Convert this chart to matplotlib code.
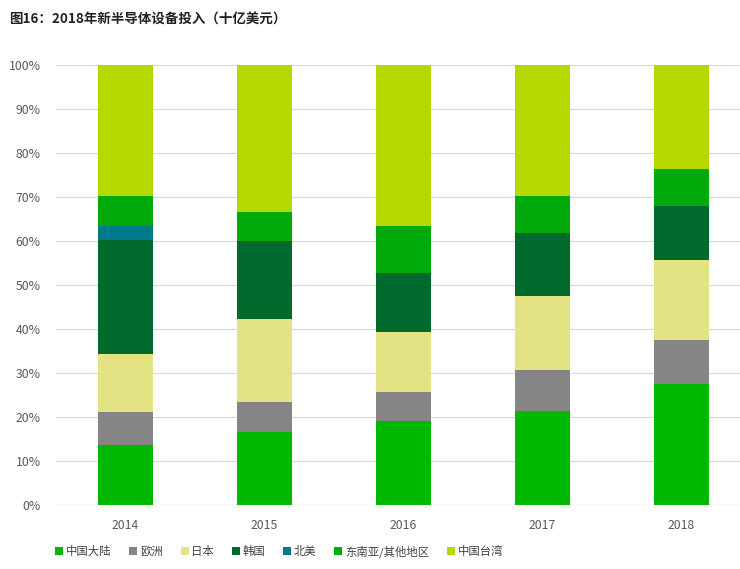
import matplotlib
matplotlib.use("Agg")
import matplotlib.pyplot as plt
import numpy as np

plt.rcParams["font.family"] = ["Noto Sans CJK SC", "DejaVu Sans"]

years = ["2014", "2015", "2016", "2017", "2018"]
regions = ["中国大陆", "欧洲", "日本", "韩国", "北美", "东南亚/其他地区", "中国台湾"]

# share of new equipment spend per year (%)
china = [13.7, 16.7, 19.1, 21.3, 27.6]
europe = [7.4, 6.7, 6.6, 9.3, 9.9]
japan = [13.3, 18.9, 13.7, 16.9, 18.1]
korea = [25.9, 17.6, 13.4, 14.3, 12.3]
north_america = [3.1, 0.0, 0.0, 0.0, 0.0]
sea_other = [6.8, 6.7, 10.6, 8.4, 8.4]
taiwan = [29.8, 33.4, 36.6, 29.8, 23.7]

series = [china, europe, japan, korea, north_america, sea_other, taiwan]
colors = ["#00B800", "#858585", "#E3E383", "#006A2C", "#007A8A", "#00AA0A", "#B6D800"]

fig = plt.figure(figsize=(7.4, 5.69), dpi=100)
ax = fig.add_axes([0.0757, 0.1125, 0.9243, 0.7733])

x = np.arange(len(years))
bottom = np.zeros(len(years))
for name, vals, col in zip(regions, series, colors):
    vals = np.array(vals)
    ax.bar(x, vals, 0.4, bottom=bottom, color=col, label=name, zorder=3)
    bottom += vals

ax.set_ylim(0, 100)
ax.set_xlim(-0.5, 4.42)
ax.set_yticks(np.arange(0, 101, 10))
ax.set_yticklabels([f"{v}%" for v in range(0, 101, 10)])
ax.set_xticks(x)
ax.set_xticklabels(years)
ax.grid(axis="y", color="#D9D9D9", lw=0.9, zorder=0)
for s in ax.spines.values():
    s.set_visible(False)
ax.tick_params(length=0, labelsize=8.8, colors="#595959")
ax.tick_params(axis="x", pad=10)
ax.tick_params(axis="y", pad=11)

fig.text(0.012, 0.965, "图16：2018年新半导体设备投入（十亿美元）",
         fontsize=9.7, fontweight="bold", color="#222222", va="center")

fig.legend(loc="center left", bbox_to_anchor=(0.061, 0.031), ncol=7,
           frameon=False, fontsize=8.2, handlelength=0.7, handleheight=0.7,
           handletextpad=0.25, columnspacing=1.55, labelcolor="#404040")

fig.savefig("out.png", dpi=100)
